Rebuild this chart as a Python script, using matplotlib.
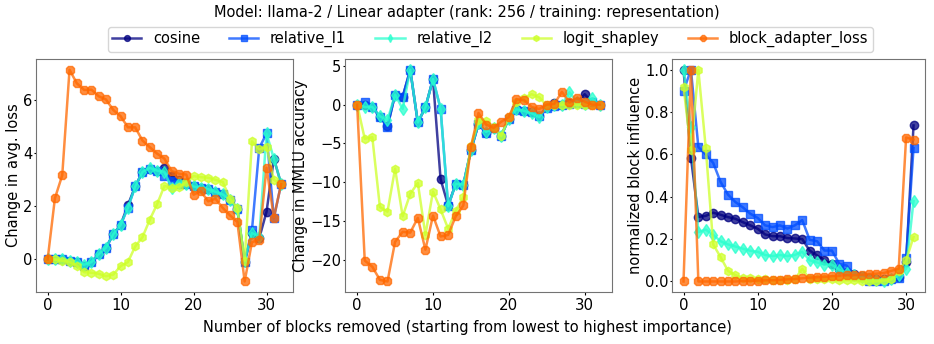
import matplotlib
matplotlib.use("Agg")
import matplotlib.pyplot as plt
import numpy as np

# nombres de las series
metodos = ["cosine", "relative_l1", "relative_l2", "logit_shapley", "block_adapter_loss"]
marcadores = ["o", "s", "d", "h", "8"]

# Cambio en la pérdida media (0..32 bloques)
loss_cosine = [0, 0, 0, -0.05, -0.1, -0.25, -0.1, 0.2, 0.45, 0.95, 1.3, 2.05, 2.75, 3.3, 3.4, 3.35,
               3.45, 3.15, 3.0, 2.85, 2.75, 2.7, 2.65, 2.55, 2.45, 2.25, 1.9, -0.1, 1.0, 0.8, 1.8, 3.8, 2.85]
loss_l1 = [0, 0, 0, -0.05, -0.1, -0.25, -0.1, 0.2, 0.45, 0.95, 1.3, 1.95, 2.75, 3.3, 3.4, 3.35,
           3.15, 2.95, 2.85, 2.85, 2.75, 2.7, 2.65, 2.55, 2.45, 2.25, 1.9, -0.1, 1.1, 4.2, 4.75, 1.55, 2.85]
loss_l2 = [0, 0, 0, -0.05, -0.1, -0.2, -0.1, 0.2, 0.45, 0.95, 1.3, 1.95, 2.75, 3.3, 3.45, 3.35,
           3.3, 2.7, 2.9, 2.85, 2.75, 2.7, 2.65, 2.55, 2.45, 2.25, 1.9, -0.05, 1.0, 0.85, 4.75, 3.8, 2.85]
loss_shapley = [0, 0, -0.05, -0.1, -0.23, -0.48, -0.5, -0.54, -0.63, -0.57, -0.25, -0.1, 0.49, 0.84, 1.5, 2.08,
                2.77, 2.7, 2.73, 2.92, 3.14, 3.1, 3.08, 3.0, 2.92, 2.29, 1.94, -0.04, 4.45, 4.15, 4.25, 3.0, 2.85]
loss_adapter = [0, 2.31, 3.17, 7.15, 6.64, 6.39, 6.4, 6.15, 6.03, 5.63, 5.4, 4.98, 4.98, 4.48, 4.23, 3.99,
                3.8, 3.33, 3.23, 3.2, 2.44, 2.57, 2.19, 2.29, 1.94, 1.66, 1.41, -0.83, 0.65, 0.75, 3.46, 1.58, 2.84]

# Cambio en la precisión MMLU (0..32 bloques)
mmlu_cosine = [0, 0, -0.3, -1.6, -2.8, 1.3, 1.0, 4.5, -2.3, -0.35, 3.3, -9.6, -13.0, -10.2, -10.3, -5.9,
               -2.5, -3.6, -3.0, -4.0, -1.8, -0.6, -0.8, -1.0, -1.5, -0.35, 0.2, 0.0, 0.2, 0.3, 1.35, 0.3, 0.0]
mmlu_l1 = [0, 0.3, -0.3, -1.6, -2.85, 1.3, 1.0, 4.5, -2.3, -0.35, 3.3, -0.5, -13.1, -10.2, -10.4, -5.9,
           -2.5, -3.6, -3.0, -4.0, -1.8, -0.7, -0.8, -1.0, -1.5, -0.4, -0.2, 0.0, 0.1, 0.2, 0.1, 0.3, 0.0]
mmlu_l2 = [0, -0.3, -0.3, -1.5, -2.0, 1.3, -0.55, 4.5, -2.3, -0.35, 3.3, -0.5, -13.1, -10.2, -10.3, -5.8,
           -2.4, -3.5, -3.0, -4.1, -1.8, -0.6, -0.8, -1.1, -1.6, -0.3, -0.1, 0.0, 1.6, 0.3, 0.1, 0.8, 0.0]
mmlu_shapley = [0, -4.4, -4.2, -13.2, -13.8, -8.25, -14.4, -11.5, -10.1, -16.8, -11.2, -13.5, -16.0, -13.7, -11.9, -5.3,
                -2.0, -2.1, -2.9, -4.0, -1.6, 0.3, 0.9, 1.35, 0.95, -0.1, -0.1, 0.0, 0.0, 0.0, -0.1, 0.0, 0.0]
mmlu_adapter = [0, -20.1, -20.9, -22.6, -22.8, -17.7, -16.4, -16.5, -14.6, -18.7, -14.3, -17.0, -16.8, -14.4, -13.0, -5.5,
                -1.07, -2.56, -3.0, -2.2, -1.6, 0.7, 0.6, -0.3, -0.55, 0.0, 0.1, 1.65, 0.3, 0.85, 0.4, 0.0, 0.0]

# Influencia normalizada por bloque (0..31)
infl_cosine = [1.0, 0.585, 0.305, 0.31, 0.325, 0.315, 0.304, 0.296, 0.28, 0.265, 0.249, 0.222, 0.214, 0.214, 0.205, 0.203,
               0.2, 0.146, 0.123, 0.1, 0.083, 0.06, 0.045, 0.035, 0.025, 0.015, 0.01, 0.01, 0.01, 0.02, 0.09, 0.737]
infl_l1 = [0.9, 1.0, 0.635, 0.6, 0.56, 0.47, 0.41, 0.375, 0.35, 0.32, 0.3, 0.265, 0.257, 0.265, 0.25, 0.265,
           0.29, 0.197, 0.19, 0.146, 0.146, 0.083, 0.075, 0.028, 0.022, 0.0, 0.0, 0.0, 0.01, 0.015, 0.11, 0.63]
infl_l2 = [1.0, 0.73, 0.233, 0.245, 0.22, 0.19, 0.175, 0.165, 0.155, 0.145, 0.14, 0.125, 0.12, 0.125, 0.12, 0.125,
           0.14, 0.1, 0.09, 0.08, 0.08, 0.055, 0.04, 0.03, 0.02, 0.01, 0.005, 0.0, 0.01, 0.03, 0.06, 0.38]
infl_shapley = [0.92, 0.62, 1.0, 0.63, 0.175, 0.115, 0.05, 0.03, 0.015, 0.015, 0.01, 0.01, 0.005, 0.005, 0.005, 0.01,
                0.06, 0.01, 0.01, 0.01, 0.01, 0.005, 0.005, 0.005, 0.0, 0.0, 0.0, 0.005, 0.01, 0.05, 0.1, 0.21]
infl_adapter = [0.0, 1.0, 0.0, 0.0, 0.0, 0.0, 0.0, 0.0, 0.002, 0.003, 0.004, 0.005, 0.006, 0.008, 0.01, 0.012,
                0.015, 0.018, 0.02, 0.022, 0.025, 0.027, 0.03, 0.03, 0.032, 0.035, 0.037, 0.04, 0.05, 0.06, 0.68, 0.67]

paneles = [
    ("Change in avg. loss", [loss_cosine, loss_l1, loss_l2, loss_shapley, loss_adapter]),
    ("Change in MMLU accuracy", [mmlu_cosine, mmlu_l1, mmlu_l2, mmlu_shapley, mmlu_adapter]),
    ("normalized block influence", [infl_cosine, infl_l1, infl_l2, infl_shapley, infl_adapter]),
]

plt.rcParams["font.size"] = 10.5
plt.rcParams["xtick.labelsize"] = 10.8
plt.rcParams["ytick.labelsize"] = 10.5
plt.rcParams["xtick.major.size"] = 2.2
plt.rcParams["ytick.major.size"] = 1.5
plt.rcParams["xtick.major.pad"] = 1.8
plt.rcParams["ytick.major.pad"] = 1.0
colores = plt.cm.jet(np.array([0.0, 0.2, 0.4, 0.6, 0.8]))

fig = plt.figure(figsize=(9.34, 3.44), dpi=100)
posiciones = [[0.0385, 0.151, 0.275, 0.677],
              [0.3694, 0.151, 0.2858, 0.677],
              [0.7195, 0.151, 0.2709, 0.677]]

lineas = []
for pos, (etiqueta, series) in zip(posiciones, paneles):
    ax = fig.add_axes(pos)
    for nombre, datos, color, m in zip(metodos, series, colores, marcadores):
        x = np.arange(len(datos))
        l, = ax.plot(x, datos, marker=m, color=color, alpha=0.75, linewidth=1.8,
                     markersize=6, label=nombre)
        if len(lineas) < 5:
            lineas.append(l)
    ax.set_ylabel(etiqueta, labelpad=1.5)
    for s in ax.spines.values():
        s.set_color("0.45")

fig.legend(lineas, metodos, loc="center", bbox_to_anchor=(0.525, 0.886), ncol=5,
           markerscale=0.7, borderpad=0.3, handletextpad=0.8, columnspacing=2.0)
fig.suptitle("Model: llama-2 / Linear adapter (rank: 256 / training: representation)",
             y=0.965, va="center", fontsize=10.5)
fig.supxlabel("Number of blocks removed (starting from lowest to highest importance)",
              y=0.047, va="center", fontsize=10.5)

fig.savefig("out.png", dpi=100)
